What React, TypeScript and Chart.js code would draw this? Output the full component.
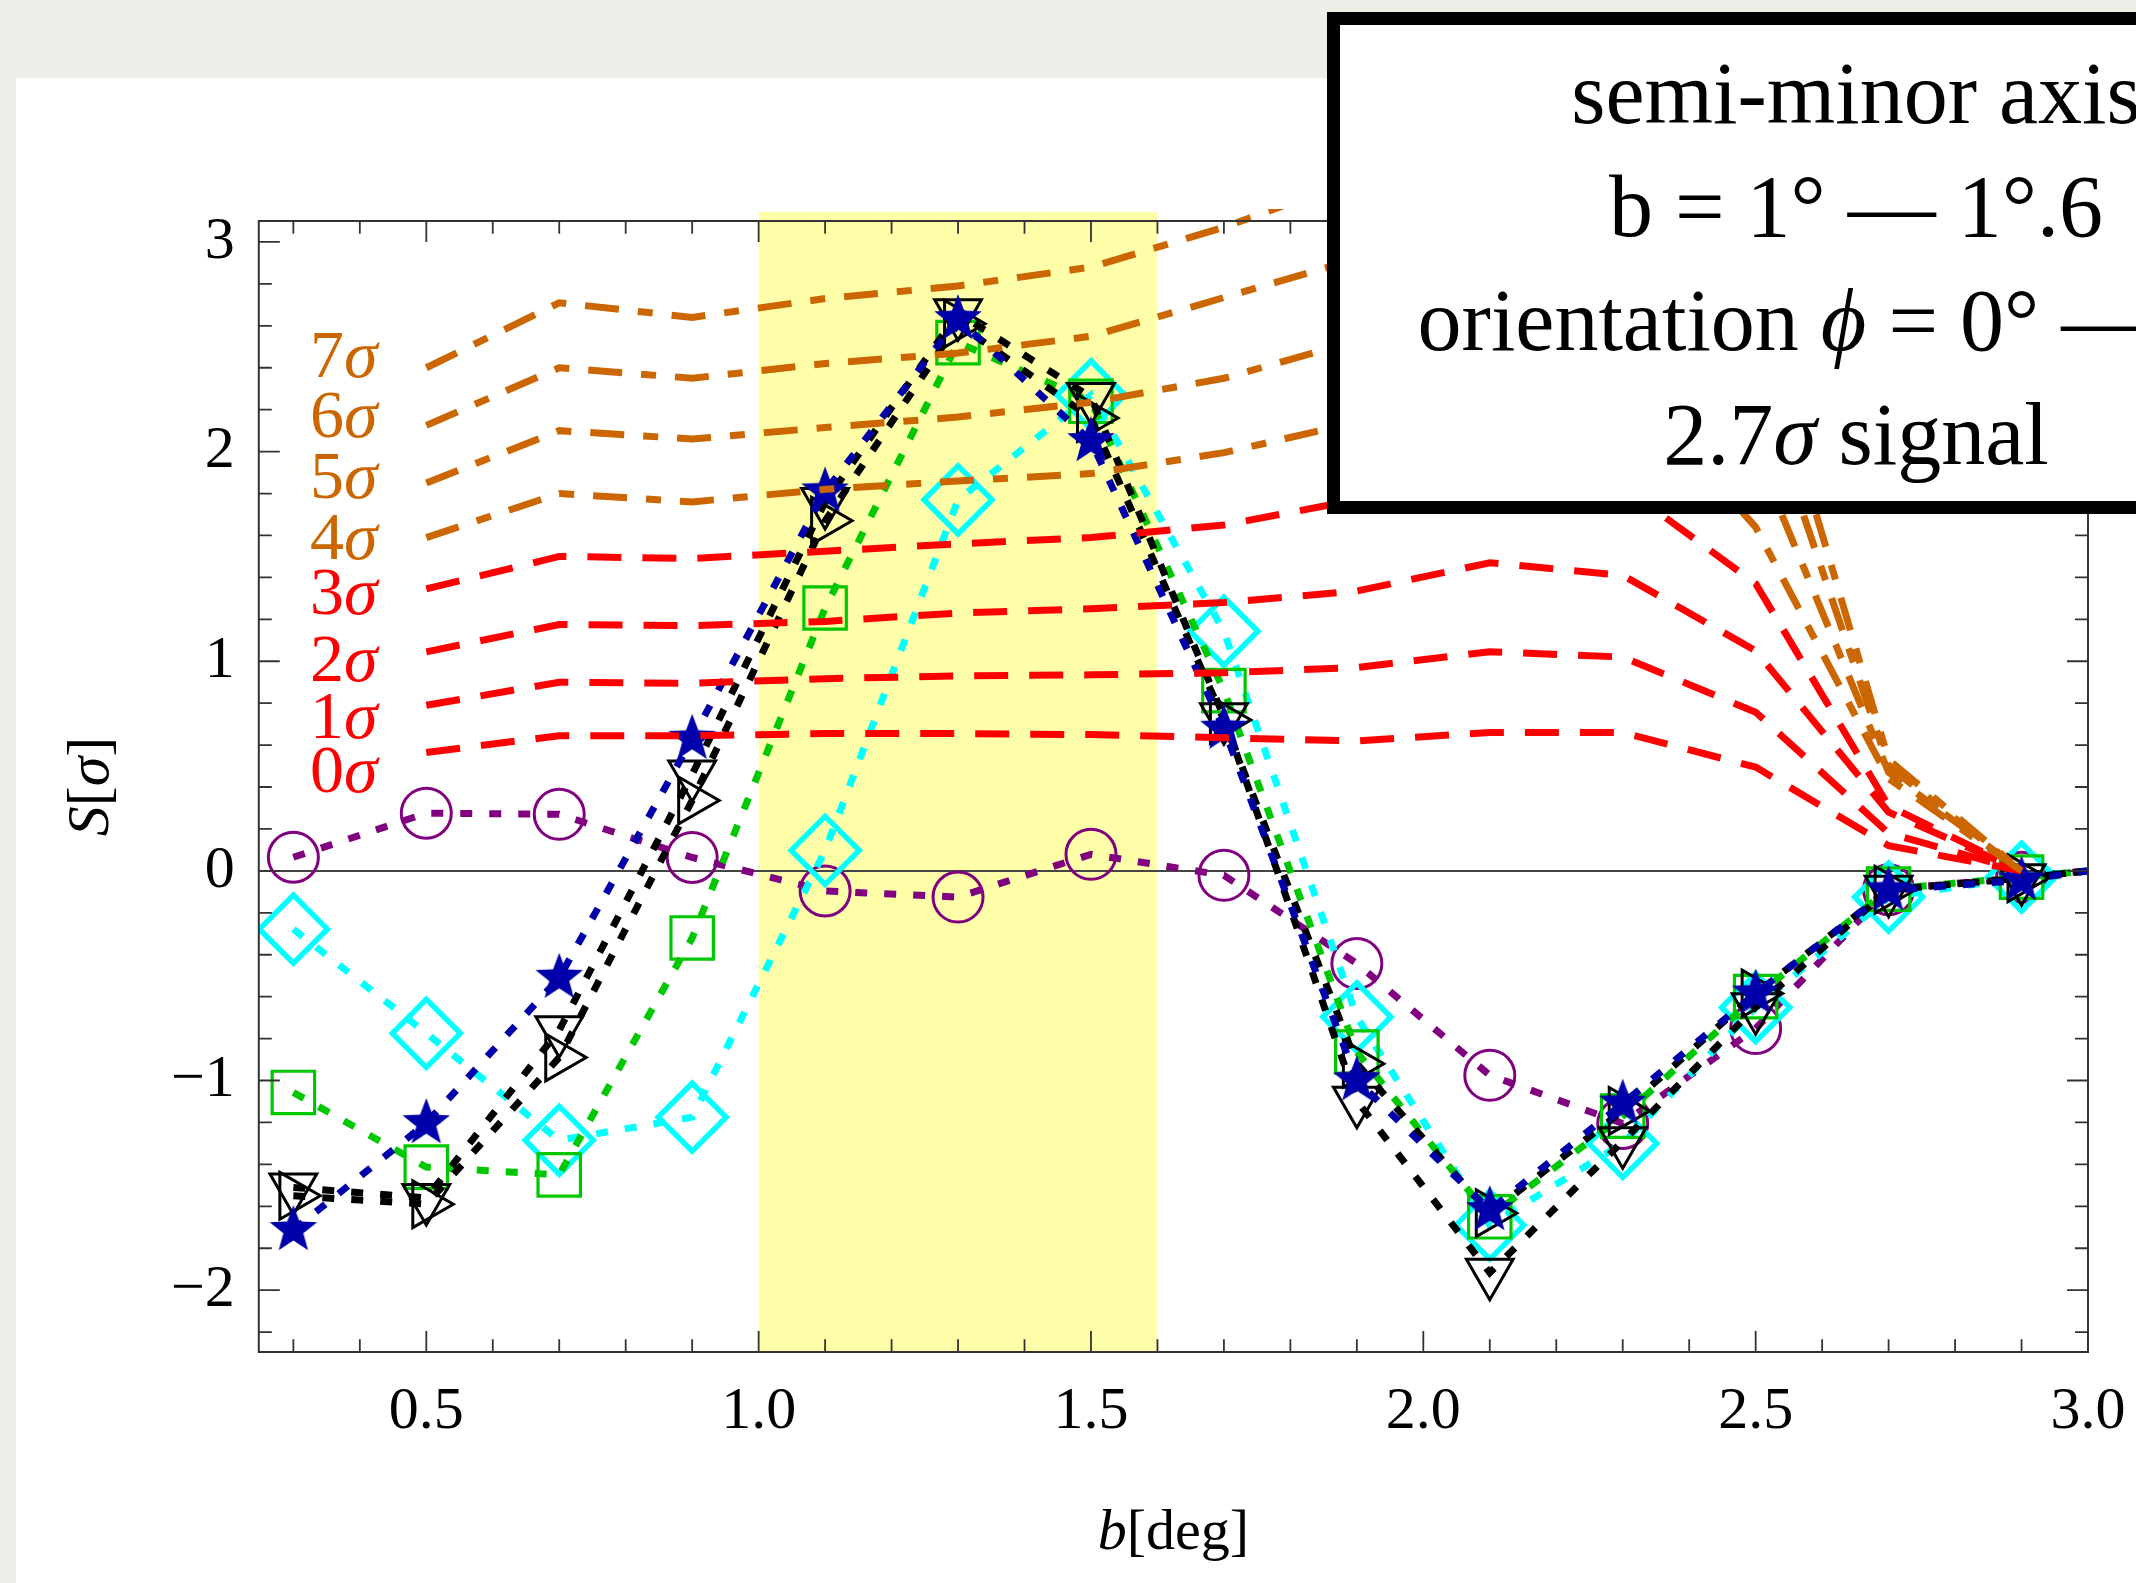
import React, { useEffect, useRef } from 'react';
import { Chart, registerables } from 'chart.js';

Chart.register(...registerables);

const CANVAS_W = 2136;
const CANVAS_H = 1583;

// ---------- data ----------
const sampleB = [0.3, 0.5, 0.7, 0.9, 1.1, 1.3, 1.5, 1.7, 1.9, 2.1, 2.3, 2.5, 2.7, 2.9];
const tailB = 3.0;
const tailS = 0;

const circleSeries = [0.065, 0.275, 0.27, 0.064, -0.096, -0.125, 0.079, -0.021, -0.442, -0.975, -1.205, -0.752, -0.09, -0.03];
const diamondSeries = [-0.278, -0.775, -1.285, -1.175, 0.098, 1.77, 2.27, 1.143, -0.697, -1.69, -1.3, -0.652, -0.125, -0.03];
const squareSeries = [-1.057, -1.413, -1.45, -0.32, 1.254, 2.52, 2.24, 0.86, -0.864, -1.65, -1.17, -0.6, -0.087, -0.03];
const downTriangleSeries = [-1.51, -1.56, -0.76, 0.46, 1.76, 2.66, 2.26, 0.733, -1.097, -1.917, -1.29, -0.65, -0.09, -0.035];
const rightTriangleSeries = [-1.55, -1.59, -0.89, 0.336, 1.67, 2.61, 2.16, 0.72, -0.92, -1.633, -1.145, -0.585, -0.09, -0.035];
const starSeries = [-1.713, -1.203, -0.51, 0.63, 1.81, 2.632, 2.05, 0.678, -0.999, -1.618, -1.11, -0.585, -0.093, -0.045];

const refB = [0.5, 0.7, 0.9, 1.1, 1.3, 1.5, 1.7, 1.9, 2.1, 2.3, 2.5, 2.7, 2.9];
const level0 = [0.565, 0.645, 0.645, 0.655, 0.655, 0.65, 0.635, 0.62, 0.66, 0.66, 0.495, 0.12, 0];
const level1 = [0.79, 0.9, 0.895, 0.917, 0.93, 0.935, 0.945, 0.97, 1.045, 1.02, 0.757, 0.18, 0];
const level2 = [1.045, 1.175, 1.17, 1.19, 1.23, 1.25, 1.28, 1.335, 1.47, 1.41, 1.05, 0.28, 0];
const level3 = [1.345, 1.5, 1.49, 1.525, 1.56, 1.59, 1.65, 1.77, 1.95, 1.835, 1.37, 0.31, 0];
const level4 = [1.59, 1.8, 1.76, 1.82, 1.86, 1.895, 1.995, 2.14, 2.4, 2.35, 1.64, 0.44, 0];
const level5 = [1.85, 2.1, 2.06, 2.115, 2.165, 2.235, 2.35, 2.53, 2.75, 2.6, 2.0, 0.47, 0];
const level6 = [2.125, 2.4, 2.35, 2.42, 2.47, 2.55, 2.735, 2.92, 3.1, 3.0, 2.37, 0.5, 0];
const level7 = [2.4, 2.71, 2.64, 2.73, 2.79, 2.88, 3.07, 3.3, 3.5, 3.4, 2.68, 0.53, 0];
const levels = [level0, level1, level2, level3, level4, level5, level6, level7];
const levelDigits = ['0', '1', '2', '3', '4', '5', '6', '7'];
const levelLabelS = [0.376, 0.632, 0.908, 1.227, 1.487, 1.78, 2.068, 2.355];
const levelLabelB = 0.325;

const xTickValues = [0.5, 1.0, 1.5, 2.0, 2.5, 3.0];
const yTickValues = [-2, -1, 0, 1, 2, 3];
const bandRange = [1.0, 1.6];

const xRange = [0.248, 3.0];
const yRange = [-2.295, 3.1];

type Run = { t: string; it?: boolean };
const legendRows: Run[][] = [
  [{ t: 'semi-minor axis' }],
  [{ t: 'b = 1° — 1°.6' }],
  [{ t: 'orientation ' }, { t: 'ϕ', it: true }, { t: ' = 0° — 90°' }],
  [{ t: '2.7' }, { t: 'σ', it: true }, { t: ' signal' }],
];
const xTitle: Run[] = [{ t: 'b', it: true }, { t: '[deg]' }];
const yTitle: Run[] = [{ t: 'S', it: true }, { t: '[' }, { t: 'σ', it: true }, { t: ']' }];

// ---------- styles ----------
const RED = '#ff0000';
const ORANGE = '#cc6600';
const PURPLE = '#800080';
const CYAN = '#00ffff';
const GREEN = '#00c800';
const BLUE = '#0000aa';
const BLACK = '#000000';
const FONT = '"Liberation Serif", "Times New Roman", serif';

function fontFor(size: number, it?: boolean) {
  return `${it ? 'italic ' : ''}${size}px ${FONT}`;
}

function drawRuns(ctx: CanvasRenderingContext2D, runs: Run[], x: number, y: number, size: number, color: string, align: 'left' | 'center') {
  let total = 0;
  const widths = runs.map((r) => {
    ctx.font = fontFor(size, r.it);
    const w = ctx.measureText(r.t).width;
    total += w;
    return w;
  });
  let cx = align === 'center' ? x - total / 2 : x;
  ctx.fillStyle = color;
  ctx.textAlign = 'left';
  ctx.textBaseline = 'alphabetic';
  runs.forEach((r, i) => {
    ctx.font = fontFor(size, r.it);
    ctx.fillText(r.t, cx, y);
    cx += widths[i];
  });
}

function makeStar(outer: number, innerRatio: number, color: string) {
  const size = Math.ceil(outer * 2 + 4);
  const c = document.createElement('canvas');
  c.width = size;
  c.height = size;
  const g = c.getContext('2d')!;
  g.translate(size / 2, size / 2);
  g.beginPath();
  for (let i = 0; i < 10; i++) {
    const r = i % 2 === 0 ? outer : outer * innerRatio;
    const a = -Math.PI / 2 + (i * Math.PI) / 5;
    const px = Math.cos(a) * r;
    const py = Math.sin(a) * r;
    if (i === 0) g.moveTo(px, py);
    else g.lineTo(px, py);
  }
  g.closePath();
  g.fillStyle = color;
  g.fill();
  return c;
}

const decorPlugin = {
  id: 'decor',
  beforeDraw(chart: any) {
    const ctx: CanvasRenderingContext2D = chart.ctx;
    ctx.save();
    ctx.fillStyle = '#efede8';
    ctx.fillRect(0, 0, CANVAS_W, CANVAS_H);
    ctx.fillStyle = '#ffffff';
    ctx.fillRect(16, 78, CANVAS_W - 16, CANVAS_H - 78);
    ctx.restore();
  },
  beforeDatasetsDraw(chart: any) {
    const ctx: CanvasRenderingContext2D = chart.ctx;
    const a = chart.chartArea;
    const xs = chart.scales.x;
    const ys = chart.scales.y;
    ctx.save();
    const x0 = xs.getPixelForValue(bandRange[0]);
    const x1 = xs.getPixelForValue(bandRange[1]);
    ctx.fillStyle = '#ffffaa';
    ctx.fillRect(x0, a.top - 9, x1 - x0, a.bottom - a.top + 9);
    const y0 = ys.getPixelForValue(0);
    ctx.strokeStyle = '#444444';
    ctx.lineWidth = 2;
    ctx.beginPath();
    ctx.moveTo(a.left, y0);
    ctx.lineTo(a.right, y0);
    ctx.stroke();
    ctx.restore();
  },
  afterDatasetsDraw(chart: any) {
    const ctx: CanvasRenderingContext2D = chart.ctx;
    const a = chart.chartArea;
    const xs = chart.scales.x;
    const ys = chart.scales.y;
    ctx.save();
    // frame
    ctx.strokeStyle = '#333333';
    ctx.lineWidth = 2;
    ctx.strokeRect(a.left, a.top, a.right - a.left, a.bottom - a.top);
    // x ticks (minor every 0.1, major every 0.5)
    ctx.lineWidth = 1.8;
    ctx.beginPath();
    for (let k = 3; k <= 30; k++) {
      const v = k / 10;
      const px = xs.getPixelForValue(v);
      const len = k % 5 === 0 ? 21 : 12.7;
      ctx.moveTo(px, a.bottom);
      ctx.lineTo(px, a.bottom - len);
      ctx.moveTo(px, a.top);
      ctx.lineTo(px, a.top + len);
    }
    // y ticks (minor every 0.2, major every 1)
    for (let k = -11; k <= 15; k++) {
      const v = k / 5;
      const py = ys.getPixelForValue(v);
      const len = k % 5 === 0 ? 21 : 13;
      ctx.moveTo(a.left, py);
      ctx.lineTo(a.left + len, py);
      ctx.moveTo(a.right, py);
      ctx.lineTo(a.right - len, py);
    }
    ctx.stroke();
    // sigma labels
    const lx = xs.getPixelForValue(levelLabelB);
    levelDigits.forEach((d, i) => {
      const py = ys.getPixelForValue(levelLabelS[i]);
      drawRuns(ctx, [{ t: d }, { t: 'σ', it: true }], lx, py, 68, i < 4 ? RED : ORANGE, 'left');
    });
    ctx.restore();
  },
  afterDraw(chart: any) {
    const ctx: CanvasRenderingContext2D = chart.ctx;
    const a = chart.chartArea;
    ctx.save();
    // axis titles
    drawRuns(ctx, xTitle, (a.left + a.right) / 2, 1549, 58, BLACK, 'center');
    ctx.save();
    ctx.translate(108, (a.top + a.bottom) / 2);
    ctx.rotate(-Math.PI / 2);
    drawRuns(ctx, yTitle, 0, 0, 60, BLACK, 'center');
    ctx.restore();
    // legend box
    const bx = 1327, by = 12, bw = 1100, bh = 502, border = 13;
    ctx.fillStyle = '#000000';
    ctx.fillRect(bx, by, bw, bh);
    ctx.fillStyle = '#ffffff';
    ctx.fillRect(bx + border, by + border, bw - 2 * border, bh - 2 * border);
    const baselines = [123, 236, 350, 464];
    legendRows.forEach((row, i) => drawRuns(ctx, row, 1856, baselines[i], 88, BLACK, 'center'));
    ctx.restore();
  },
};

export default function App() {
  const canvasRef = useRef<HTMLCanvasElement | null>(null);

  useEffect(() => {
    const canvas = canvasRef.current;
    if (!canvas) return;
    const star = makeStar(25, 0.42, BLUE);

    const markerSet = (label: string, values: number[], color: string, style: any, radius: number, pbw: number, rotation: number) => ({
      label,
      data: [...sampleB.map((b, i) => ({ x: b, y: values[i] })), { x: tailB, y: tailS }],
      showLine: true,
      borderColor: color,
      borderWidth: 7,
      borderDash: [12, 17],
      borderCapStyle: 'butt',
      pointStyle: style,
      pointRadius: [...sampleB.map(() => radius), 0],
      pointBorderColor: color,
      pointBackgroundColor: 'rgba(0,0,0,0)',
      pointBorderWidth: pbw,
      pointRotation: rotation,
      tension: 0,
      clip: 0,
    });

    const levelSets = levels
      .map((vals, i) => ({
        label: `${i}σ`,
        data: refB.map((b, j) => ({ x: b, y: vals[j] })),
        showLine: true,
        borderColor: i < 4 ? RED : ORANGE,
        borderWidth: 7,
        borderDash: i < 4 ? [34, 21] : [34, 19, 15, 19],
        borderCapStyle: 'butt',
        pointRadius: 0,
        tension: 0,
        clip: { left: 0, top: 12, right: 0, bottom: 0 },
      }))
      .reverse();

    const datasets: any[] = [
      ...levelSets,
      markerSet('star', starSeries, BLUE, star, 25, 1, 0),
      markerSet('right triangle', rightTriangleSeries, BLACK, 'triangle', 27, 3, 90),
      markerSet('down triangle', downTriangleSeries, BLACK, 'triangle', 27, 3, 180),
      markerSet('square', squareSeries, GREEN, 'rect', 30, 3.2, 0),
      markerSet('diamond', diamondSeries, CYAN, 'rectRot', 34, 5.5, 0),
      markerSet('circle', circleSeries, PURPLE, 'circle', 25, 3, 0),
    ];

    const chart = new Chart(canvas, {
      type: 'scatter',
      data: { datasets },
      options: {
        animation: false,
        responsive: false,
        devicePixelRatio: 1,
        events: [],
        layout: { padding: { left: 0, top: 221, right: 48, bottom: 0 } },
        plugins: { legend: { display: false }, tooltip: { enabled: false }, title: { display: false } },
        scales: {
          x: {
            type: 'linear',
            min: xRange[0],
            max: xRange[1],
            afterBuildTicks: (scale: any) => {
              scale.ticks = xTickValues.map((v) => ({ value: v }));
            },
            afterFit: (scale: any) => {
              scale.height = CANVAS_H - 1352;
              scale.paddingLeft = 0;
              scale.paddingRight = 0;
            },
            grid: { display: false, drawTicks: false },
            border: { display: false },
            ticks: {
              autoSkip: false,
              maxRotation: 0,
              padding: 24,
              color: BLACK,
              font: { family: FONT, size: 60 },
              callback: (v: any) => Number(v).toFixed(1),
            },
          },
          y: {
            type: 'linear',
            min: yRange[0],
            max: yRange[1],
            afterBuildTicks: (scale: any) => {
              scale.ticks = yTickValues.map((v) => ({ value: v }));
            },
            afterFit: (scale: any) => {
              scale.width = 258.8;
              scale.paddingTop = 0;
              scale.paddingBottom = 0;
            },
            grid: { display: false, drawTicks: false },
            border: { display: false },
            ticks: {
              autoSkip: false,
              padding: 24,
              color: BLACK,
              font: { family: FONT, size: 60 },
              callback: (v: any) => (Number(v) < 0 ? '\u2212' + Math.abs(Number(v)) : String(v)),
            },
          },
        },
      } as any,
      plugins: [decorPlugin],
    });

    return () => chart.destroy();
  }, []);

  return (
    <div style={{ position: 'fixed', left: 0, top: 0, width: CANVAS_W, height: CANVAS_H, overflow: 'hidden' }}>
      <canvas ref={canvasRef} width={CANVAS_W} height={CANVAS_H} style={{ display: 'block', width: CANVAS_W, height: CANVAS_H }} />
    </div>
  );
}
